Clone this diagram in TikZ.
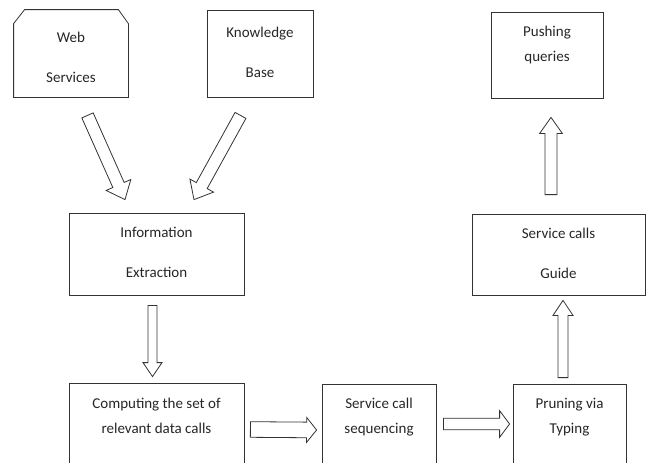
\documentclass[tikz,border=0pt]{standalone}
\usepackage{fontspec}
\setmainfont{Carlito}
\usetikzlibrary{calc}

\tikzset{
 box/.style={draw=black!80, line width=0.8pt, inner sep=0pt, align=center,
   text=black!85, font=\fontsize{15}{18}\selectfont, text depth=0pt},
 boxline/.style={draw=black!80, line width=0.8pt, line join=miter},
 blockarrow/.style={draw=black!80, line width=0.8pt, fill=white, line join=miter}
}

% hollow block arrow: tail, tip, half shaft, half head, head length
\newcommand{\blockarrow}[5]{%
 \coordinate (hb) at ($(#2)!#5!(#1)$);
 \draw[blockarrow] ($(#1)!#3!90:(#2)$) -- ($(hb)!#3!-90:(#1)$) -- ($(hb)!#4!-90:(#1)$)
   -- (#2) -- ($(hb)!#4!90:(#1)$) -- ($(hb)!#3!90:(#1)$) -- ($(#1)!#3!-90:(#2)$) -- cycle;
}

\begin{document}
\begin{tikzpicture}[x=1pt,y=-1pt]
 \useasboundingbox (0,0) rectangle (646,463);
 \clip (0,0) rectangle (646,463);

 \node [box, draw=none, minimum width=114pt, minimum height=87pt, text height=57pt] (web) at (71,53.5) {Web\\[22pt]Services};
 \draw [boxline] (web.south west) -- ($(web.north west)+(0,14)$) -- ($(web.north west)+(11,0)$)
   -- ($(web.north east)+(-10,0)$) -- ($(web.north east)+(0,14)$) -- (web.south east) -- cycle;
 \node [box, minimum width=106pt, minimum height=87pt, text height=47pt] (kb) at (260,53.5) {Knowledge\\[22pt]Base};
 \node [box, minimum width=112pt, minimum height=86pt, text height=12pt] (push) at (547,55) {Pushing\\[7pt]queries};
 \node [box, minimum width=175pt, minimum height=82pt, text height=46pt] (info) at (156.5,254) {Information\\[22pt]Extraction};
 \node [box, minimum width=173pt, minimum height=81pt, text height=47pt] (guide) at (558.5,254.5) {Service calls\\[22pt]Guide};
 \node [box, minimum width=175pt, minimum height=87pt, text height=13pt] (comp) at (156.5,426.5) {Computing the set of\\[7pt]relevant data calls};
 \node [box, minimum width=114pt, minimum height=86pt, text height=12pt] (seq) at (379,427) {Service call\\[7pt]sequencing};
 \node [box, minimum width=113pt, minimum height=86pt, text height=12pt] (prune) at (569.5,427) {Pruning via\\[7pt]Typing};

 % arrows
 \coordinate (a1) at ($(web.south)+(16.5,18)$);
 \coordinate (b1) at ($(info.north)+(-31.5,-13)$);
 \blockarrow{a1}{b1}{6.2pt}{13.5pt}{16pt}
 \coordinate (a2) at ($(kb.south)+(-19.5,18)$);
 \coordinate (b2) at ($(info.north)+(37.5,-13)$);
 \blockarrow{a2}{b2}{6.2pt}{13.5pt}{16pt}
 \coordinate (a3) at ($(info.south)+(-4,10)$);
 \coordinate (b3) at ($(comp.north)+(-4,-6)$);
 \blockarrow{a3}{b3}{4.5pt}{9.5pt}{14pt}
 \coordinate (a4) at ($(comp.east)+(6,3)$);
 \coordinate (b4) at ($(seq.west)+(-5,3)$);
 \blockarrow{a4}{b4}{7.8pt}{12.5pt}{10pt}
 \coordinate (a5) at ($(seq.east)+(7,-3)$);
 \coordinate (b5) at ($(prune.west)+(-3,-3)$);
 \blockarrow{a5}{b5}{5.8pt}{13.3pt}{10pt}
 \coordinate (a6) at ($(prune.north)+(-6.5,-6)$);
 \coordinate (b6) at ($(guide.south)+(4.5,5)$);
 \blockarrow{a6}{b6}{5pt}{10pt}{15pt}
 \coordinate (a7) at ($(guide.north)+(-7.5,-19)$);
 \coordinate (b7) at ($(push.south)+(4,19)$);
 \blockarrow{a7}{b7}{6pt}{11.3pt}{16pt}

\end{tikzpicture}
\end{document}
